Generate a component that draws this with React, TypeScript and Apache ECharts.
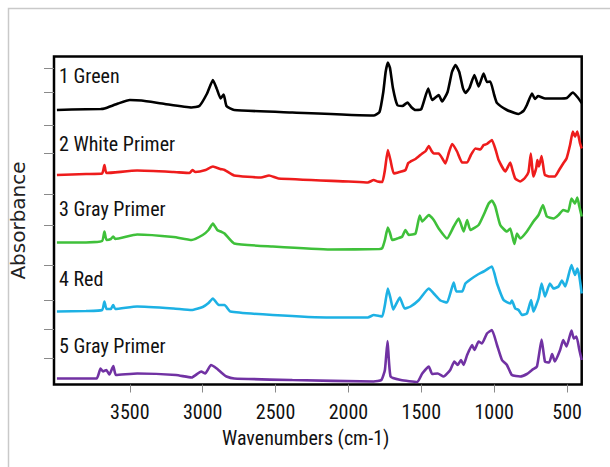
import React, { useEffect, useRef } from "react";
import * as echarts from "echarts";

// Wavenumber (cm-1) vs stacked absorbance (arbitrary offset units)
const greenSpectrum: [number, number][] = [
  [4000, 274.5], [3900, 275], [3700, 275.5], [3674, 276], [3580, 281], [3500, 284.5], [3420, 284],
  [3260, 280.5], [3076, 277], [3023, 278.5], [2970, 291], [2930, 304.5], [2904, 296], [2877, 286],
  [2856, 290], [2837, 278.5], [2784, 274.5], [2385, 272], [1827, 269], [1787, 272.5], [1761, 292.5],
  [1745, 312.5], [1730, 322], [1715, 316.5], [1695, 296.5], [1665, 279.5], [1630, 278.5], [1595, 282],
  [1570, 277.5], [1540, 274.5], [1500, 275.5], [1453, 296], [1426, 284.5], [1381, 289.5], [1358, 283],
  [1320, 292.5], [1290, 312.5], [1266, 319.5], [1240, 312.5], [1215, 296.5], [1198, 291.5], [1170, 296.5],
  [1136, 309.5], [1107, 298], [1073, 311], [1050, 302.5], [1027, 303], [1000, 289.5], [981, 281.5],
  [913, 274.5], [860, 271.5], [833, 270.5], [800, 273.5], [776, 279.5], [741, 291], [720, 285.5],
  [700, 288.5], [650, 286], [560, 286], [502, 286.5], [461, 292], [430, 287.5], [400, 281.5],
];

const whitePrimerSpectrum: [number, number][] = [
  [4000, 209.5], [3800, 210.5], [3690, 211], [3674, 219.5], [3660, 211.5], [3450, 214], [3200, 212.5],
  [3090, 211.5], [3070, 214.5], [3050, 212.5], [2980, 214.5], [2930, 218], [2880, 215.5], [2850, 214.5],
  [2784, 209], [2600, 207], [2545, 209], [2480, 206], [2000, 203], [1867, 202], [1827, 204.5], [1800, 203],
  [1768, 202.5], [1750, 214.5], [1730, 234.5], [1712, 224.5], [1689, 211], [1650, 212.5], [1609, 214.5],
  [1590, 221.5], [1574, 223], [1540, 225.5], [1494, 231], [1470, 233.5], [1449, 238.5], [1430, 233.5],
  [1415, 231], [1381, 231], [1350, 224.5], [1335, 221], [1310, 232.5], [1289, 240.5], [1255, 233],
  [1220, 222], [1186, 222], [1160, 229.5], [1129, 236], [1095, 235], [1073, 239.5], [1050, 240.5],
  [1016, 244.5], [990, 234.5], [970, 224.5], [924, 213], [890, 222], [875, 214.5], [856, 206], [822, 203],
  [790, 206.5], [765, 212.5], [749, 231], [738, 214.5], [731, 208], [712, 216.5], [704, 224.5], [693, 218],
  [675, 228.5], [660, 214.5], [652, 209.5], [618, 208], [584, 208], [555, 214.5], [527, 221], [504, 226],
  [480, 239.5], [461, 253], [446, 248], [430, 253], [411, 241], [400, 236],
];

const grayPrimer3Spectrum: [number, number][] = [
  [4000, 142], [3800, 142], [3690, 143.5], [3674, 153], [3660, 144.5], [3630, 145.5], [3614, 148],
  [3600, 145.5], [3450, 150], [3200, 147.5], [3076, 144.5], [3000, 149.5], [2960, 154.5], [2930, 161],
  [2900, 154.5], [2870, 152.5], [2850, 151], [2784, 141], [2519, 138], [2122, 135], [1787, 135.5],
  [1768, 136.5], [1750, 144.5], [1730, 157], [1715, 151.5], [1700, 144.5], [1665, 146], [1631, 148],
  [1609, 154.5], [1586, 149.5], [1540, 151], [1511, 169], [1494, 163], [1449, 169.5], [1415, 164.5],
  [1381, 156], [1324, 146], [1278, 158], [1244, 166], [1210, 153], [1186, 164.5], [1164, 154.5],
  [1107, 159.5], [1073, 169.5], [1038, 181], [1016, 184], [993, 178], [959, 159.5], [913, 153], [890, 156],
  [862, 140.5], [844, 151], [822, 146], [776, 153], [731, 163], [696, 169.5], [666, 179.5], [639, 168],
  [593, 166], [559, 169.5], [527, 174.5], [493, 173], [470, 186], [446, 181], [430, 187], [416, 178],
  [400, 168],
];

const redSpectrum: [number, number][] = [
  [4000, 73], [3800, 73.5], [3690, 74.5], [3674, 83], [3660, 75.5], [3630, 75.5], [3614, 79.5],
  [3600, 75.5], [3450, 78], [3200, 76], [3076, 74.5], [3000, 77.5], [2960, 81.5], [2930, 86], [2890, 79.5],
  [2850, 79.5], [2810, 73], [2519, 69.5], [2122, 67], [1867, 67], [1827, 69.5], [1787, 68.5], [1768, 68],
  [1750, 79.5], [1730, 96], [1712, 86.5], [1693, 75], [1648, 87], [1615, 76], [1574, 78], [1517, 84.5],
  [1449, 96], [1415, 91], [1369, 84], [1324, 82], [1278, 102], [1260, 93], [1220, 93], [1198, 101],
  [1164, 105], [1118, 109.5], [1073, 113], [1016, 118], [981, 101], [936, 84.5], [890, 81], [879, 84],
  [856, 76], [833, 74.5], [810, 69.5], [776, 71], [747, 84.5], [731, 73], [696, 86], [675, 101], [652, 88],
  [618, 101], [593, 96], [559, 98], [536, 104], [513, 98], [470, 119.5], [446, 109.5], [430, 116],
  [416, 108], [400, 91],
];

const grayPrimer5Spectrum: [number, number][] = [
  [4000, 6], [3728, 6], [3701, 16], [3683, 13], [3661, 14.5], [3640, 10], [3613, 18.5], [3595, 9.5],
  [3449, 11], [3183, 9.5], [3076, 7], [3010, 13], [2983, 11], [2943, 19.5], [2904, 16], [2864, 11],
  [2837, 8], [2784, 6], [2385, 4.5], [1827, 3], [1774, 4.5], [1750, 14.5], [1732, 43.5], [1711, 8],
  [1641, 4.5], [1528, 2.5], [1494, 11], [1449, 18], [1426, 10.5], [1388, 11], [1347, 8], [1302, 14.5],
  [1274, 23], [1251, 19.5], [1228, 24.5], [1210, 19.5], [1186, 29.5], [1152, 39.5], [1136, 34.5],
  [1107, 43], [1084, 41], [1050, 51], [1016, 54.5], [981, 39.5], [947, 24.5], [913, 19.5], [879, 9.5],
  [822, 8], [776, 10.5], [741, 14.5], [707, 18], [675, 45], [652, 23], [623, 22], [603, 30.5], [584, 23],
  [548, 34.5], [527, 44.5], [504, 38], [470, 54], [454, 46], [436, 48], [416, 34.5], [400, 24.5],
];

const seriesNames = ["1 Green", "2 White Primer", "3 Gray Primer", "4 Red", "5 Gray Primer"];
const seriesColors = ["#000000", "#ee1c1c", "#3fc03a", "#1db1e4", "#7132a3"];
const xTickValues = [500, 1000, 1500, 2000, 2500, 3000, 3500];
const yTickValues = [26, 55, 84, 119.5, 159.5, 190, 231, 259.5, 292, 316];

const NARROW = "'Liberation Sans Narrow', 'Arial Narrow', 'Roboto Condensed', Roboto, sans-serif";

export default function App() {
  const ref = useRef<HTMLDivElement>(null);
  useEffect(() => {
    if (!ref.current) return;
    const chart = echarts.init(ref.current, undefined, { renderer: "svg" });
    const spectra = [greenSpectrum, whitePrimerSpectrum, grayPrimer3Spectrum, redSpectrum, grayPrimer5Spectrum];
    const labelY = [78, 146, 211, 281, 348];
    chart.setOption({
      animation: false,
      backgroundColor: "#ffffff",
      grid: {
        left: 52.7,
        right: 28.3,
        top: 56.5,
        bottom: 82.5,
        show: true,
        borderColor: "#000",
        borderWidth: 2.5,
      },
      xAxis: {
        type: "value",
        inverse: true,
        min: 400,
        max: 4020,
        splitLine: { show: false },
        axisLine: { show: false },
        axisTick: { show: true, inside: false, length: 8, customValues: xTickValues, lineStyle: { color: "#8a8a8a", width: 1 } },
        axisLabel: {
          customValues: xTickValues,
          formatter: (v: number) => String(v),
          margin: 17,
          fontSize: 20,
          fontFamily: NARROW,
          color: "#111",
        },
      },
      yAxis: {
        type: "value",
        min: 0,
        max: 328,
        name: "Absorbance",
        nameLocation: "middle",
        nameGap: 26,
        nameRotate: 90,
        nameTextStyle: { fontSize: 20, fontFamily: "'DejaVu Sans', sans-serif", color: "#222" },
        splitLine: { show: false },
        axisLine: { show: false },
        axisTick: { show: true, inside: false, length: 10, customValues: yTickValues, lineStyle: { color: "#8a8a8a", width: 1 } },
        axisLabel: { show: false },
      },
      graphic: [
        {
          type: "rect",
          shape: { x: 8.5, y: 8.5, width: 700, height: 600 },
          style: { fill: "none", stroke: "#c9c9c9", lineWidth: 1.5 },
          silent: true,
          z: -10,
        },
        ...seriesNames.map((n, i) => ({
          type: "text",
          left: 59,
          top: labelY[i] - 12,
          style: { text: n, fontSize: 20, fontFamily: NARROW, fill: "#111" },
          z: 100,
        })),
        {
          type: "text",
          left: 222,
          top: 428,
          style: { text: "Wavenumbers (cm-1)", fontSize: 20, fontFamily: NARROW, fill: "#111" },
        },
      ],
      series: spectra.map((d, i) => ({
        name: seriesNames[i],
        type: "line",
        data: d,
        showSymbol: false,
        symbol: "none",
        smooth: 0.15,
        lineStyle: { color: seriesColors[i], width: 2.6 },
        clip: true,
      })),
    });
    return () => chart.dispose();
  }, []);
  return <div ref={ref} style={{ position: "absolute", left: 0, top: 0, width: 610, height: 467 }} />;
}
